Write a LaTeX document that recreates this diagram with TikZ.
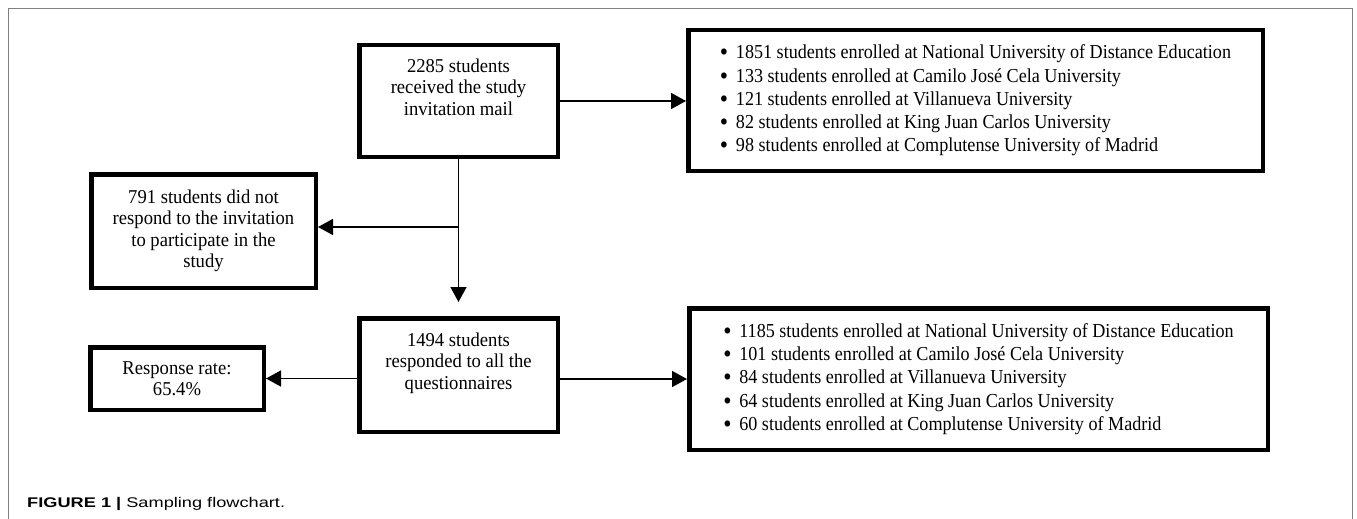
\documentclass[tikz,border=0pt]{standalone}
\usepackage{fontspec}
\setmainfont{Liberation Serif}
\newfontfamily\boxfont[FakeStretch=0.95]{Liberation Serif}
\newfontfamily\listfont[FakeStretch=0.915]{Liberation Serif}
\newfontfamily\capfont[FakeStretch=1.3]{Liberation Sans}
\usetikzlibrary{arrows.meta}

\tikzset{
  flowbox/.style={draw, line width=4.5pt, align=center, inner sep=0pt,
    font=\boxfont\fontsize{19.6}{21.5}\selectfont},
  listbox/.style={draw, line width=4.5pt, align=left, inner sep=0pt,
    font=\listfont\fontsize{19.8}{23.2}\selectfont},
  flowarrow/.style={line width=1.5pt, -{Triangle[length=15pt,width=16pt]}}
}
\newcommand{\uniitem}{\makebox[16pt][l]{\smash{\raisebox{-2pt}{\scalebox{1.3}{\textbullet}}}}}

\begin{document}
\begin{tikzpicture}[x=1pt,y=-1pt]
                \useasboundingbox (0,0) rectangle (1357,519);
                \draw[gray, line width=1pt] (8,519) -- (8,9) -- (1352,9) -- (1352,519);

                \node[flowbox, minimum width=198.5pt, minimum height=111.5pt] (invited) at (458.5,101)
                    {2285 students\\received the study\\invitation mail\\\strut};
                \node[flowbox, minimum width=224.5pt, minimum height=113.5pt] (nonresp) at (203.5,231)
                    {791 students did not\\respond to the invitation\\to participate in the\\study};
                \node[flowbox, minimum width=198.5pt, minimum height=113.5pt] (responded) at (458.5,375)
                    {1494 students\\responded to all the\\questionnaires\\\strut};
                \node[flowbox, minimum width=173.5pt, minimum height=62.5pt] (rate) at (177,378.5)
                    {Response rate:\\65.4\%};

                \node[listbox, minimum width=574.5pt, minimum height=140.5pt] (invitedlist) at (975.5,100.5)
                    {\uniitem 1851 students enrolled at National University of Distance Education\\
                     \uniitem 133 students enrolled at Camilo José Cela University\\
                     \uniitem 121 students enrolled at Villanueva University\\
                     \uniitem 82 students enrolled at King Juan Carlos University\\
                     \uniitem 98 students enrolled at Complutense University of Madrid};
                \node[listbox, minimum width=578.5pt, minimum height=141.5pt] (respondedlist) at (978.5,379)
                    {\uniitem 1185 students enrolled at National University of Distance Education\\
                     \uniitem 101 students enrolled at Camilo José Cela University\\
                     \uniitem 84 students enrolled at Villanueva University\\
                     \uniitem 64 students enrolled at King Juan Carlos University\\
                     \uniitem 60 students enrolled at Complutense University of Madrid};

                \coordinate (split) at (458.5,227);

                \draw[flowarrow] (invited.east) -- (invited.east -| invitedlist.west);
                \draw[flowarrow] (invited.south) -- ([yshift=14pt]responded.north);
                \draw[flowarrow] (split) -- (split -| nonresp.east);
                \draw[flowarrow] (rate.east -| responded.west) -- (rate.east);
                \draw[flowarrow] (respondedlist.west -| responded.east) -- (respondedlist.west);

                \node[anchor=base west, inner sep=0pt, font=\capfont\fontsize{14}{16}\selectfont] (caption) at (27,507)
                    {\textbf{FIGURE 1} \textbf{|} Sampling flowchart.};
\end{tikzpicture}
\end{document}
